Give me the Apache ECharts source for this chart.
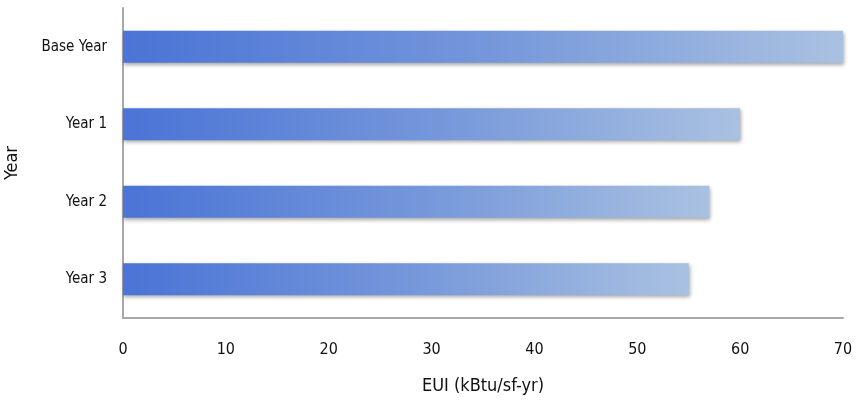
<!DOCTYPE html>
<html>
<head>
<meta charset="utf-8">
<script src="https://cdn.jsdelivr.net/npm/echarts@6/dist/echarts.min.js"></script>
<style>html,body{margin:0;padding:0;background:#fff}#c{width:858px;height:401px}</style>
</head>
<body>
<div id="c"></div>
<script>
const categories = ['Base Year', 'Year 1', 'Year 2', 'Year 3'];
const euiValues = [70, 60, 57, 55];
const xTicks = [0, 10, 20, 30, 40, 50, 60, 70];

const FONT = "'Liberation Sans Narrow', 'DejaVu Sans Condensed', 'Roboto Condensed', sans-serif";
const chart = echarts.init(document.getElementById('c'), null, {renderer: 'canvas'});
chart.setOption({
  animation: false,
  grid: {left: 123, right: 15, top: 8, bottom: 83, containLabel: false, outerBoundsMode: 'none'},
  xAxis: {
    type: 'value', min: 0, max: 70, interval: 10,
    name: 'EUI (kBtu/sf-yr)', nameLocation: 'middle', nameGap: 59,
    nameTextStyle: {fontFamily: FONT, fontSize: 18, color: '#111'},
    axisLine: {show: true, lineStyle: {color: '#a8a8a8', width: 2}},
    axisTick: {show: false},
    splitLine: {show: false},
    axisLabel: {fontFamily: FONT, fontSize: 16, color: '#111', margin: 24,
      formatter: v => xTicks.includes(v) ? String(v) : ''}
  },
  yAxis: {
    type: 'category', data: categories, inverse: true,
    name: 'Year', nameLocation: 'middle', nameGap: 102, nameRotate: 90,
    nameTextStyle: {fontFamily: FONT, fontSize: 18, color: '#111'},
    axisLine: {show: true, lineStyle: {color: '#a8a8a8', width: 2}},
    axisTick: {show: false},
    axisLabel: {fontFamily: FONT, fontSize: 15, color: '#111', margin: 16}
  },
  series: [{
    type: 'bar', data: euiValues, barWidth: 32,
    itemStyle: {
      color: new echarts.graphic.LinearGradient(0, 0, 1, 0, [
        {offset: 0, color: '#4a74d6'},
        {offset: 0.5, color: '#7496da'},
        {offset: 1, color: '#a9c1e1'}
      ]),
      shadowColor: 'rgba(0,0,0,0.35)', shadowBlur: 4, shadowOffsetX: 1, shadowOffsetY: 2
    }
  }]
});
</script>
</body>
</html>
